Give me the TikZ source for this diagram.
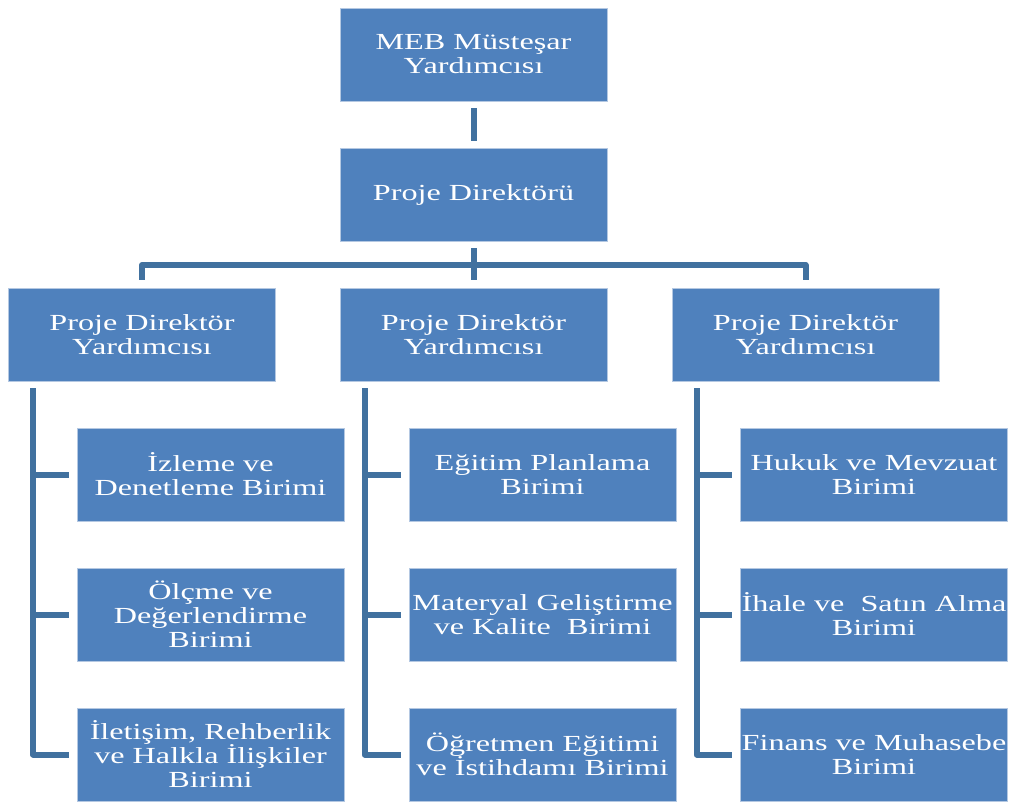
\documentclass[tikz,border=0pt]{standalone}
\usepackage{fontspec}
\setmainfont{Liberation Serif}[FakeStretch=1.4]
\definecolor{unitfill}{HTML}{4F81BD}
\definecolor{unitedge}{HTML}{B4C8E2}
\definecolor{linkblue}{HTML}{41719F}

\begin{document}
\begin{tikzpicture}[x=1pt,y=-1pt,
  unit/.style={rectangle,fill=unitfill,draw=unitedge,line width=0.8pt,
    minimum width=267pt,minimum height=93pt,inner sep=0pt,
    text=white,align=center,font=\fontsize{23}{24}\selectfont},
  link/.style={linkblue,line width=6pt}]
  \useasboundingbox (0,0) rectangle (1017,802);
  % top of the chart
  \node[unit] (meb) at (473.5,54.5) {MEB Müsteşar\\Yardımcısı};
  \node[unit] (pd) at (473.5,194.5) {Proje Direktörü};
  \draw[link,shorten <=7pt,shorten >=7pt] (meb.south) -- (pd.north);
  % assistants
  \node[unit] (pdy1) at (142,334.5) {Proje Direktör\\Yardımcısı};
  \node[unit] (pdy2) at (473.5,334.5) {Proje Direktör\\Yardımcısı};
  \node[unit] (pdy3) at (805.5,334.5) {Proje Direktör\\Yardımcısı};
  \coordinate (bus) at (473.5,265);
  \draw[link,shorten <=7pt] (pd.south) -- (bus);
  \draw[link,shorten >=8pt] (bus) -- (pdy2.north);
  \draw[link,shorten >=8pt,line join=round] (bus) -| (pdy1.north);
  \draw[link,shorten >=8pt,line join=round] (bus) -| (pdy3.north);
  % units
  \node[unit] (b11) at (210.5,474.5) {İzleme ve\\Denetleme Birimi};
  \node[unit] (b12) at (210.5,614.5) {Ölçme ve\\Değerlendirme\\Birimi};
  \node[unit] (b13) at (210.5,754.5) {İletişim, Rehberlik\\ve Halkla İlişkiler\\Birimi};
  \node[unit] (b21) at (542.5,474.5) {Eğitim Planlama\\Birimi};
  \node[unit] (b22) at (542.5,614.5) {Materyal Geliştirme\\ve Kalite~ Birimi};
  \node[unit] (b23) at (542.5,754.5) {Öğretmen Eğitimi\\ve İstihdamı Birimi};
  \node[unit] (b31) at (874,474.5) {Hukuk ve Mevzuat\\Birimi};
  \node[unit] (b32) at (874,614.5) {İhale ve~ Satın Alma\\Birimi};
  \node[unit] (b33) at (874,754.5) {Finans ve Muhasebe\\Birimi};
  \foreach \c in {1,2,3} {
    \draw[link,shorten >=8pt,line join=round]
      ([xshift=25pt,yshift=-7pt]pdy\c.south west) |- (b\c3.west);
    \draw[link,shorten >=8pt] ([xshift=25pt,yshift=-7pt]pdy\c.south west) |- (b\c1.west);
    \draw[link,shorten >=8pt] ([xshift=25pt,yshift=-7pt]pdy\c.south west) |- (b\c2.west);
  }
\end{tikzpicture}
\end{document}
